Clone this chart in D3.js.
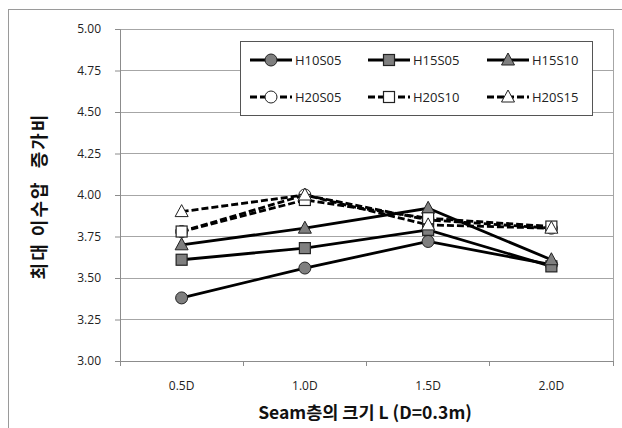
<!DOCTYPE html>
<html><head><meta charset="utf-8">
<script src="https://cdn.jsdelivr.net/npm/d3@7/dist/d3.min.js"></script>
<style>body{margin:0;background:#fff}</style>
</head><body>
<svg id="c" width="622" height="428"></svg>
<script>
const categories = ["0.5D","1.0D","1.5D","2.0D"];
const yTicks = [3.00,3.25,3.50,3.75,4.00,4.25,4.50,4.75,5.00];
const seriesNames = ["H10S05","H15S05","H15S10","H20S05","H20S10","H20S15"];
const H10S05 = [3.38,3.56,3.72,3.58];
const H15S05 = [3.61,3.68,3.79,3.57];
const H15S10 = [3.70,3.80,3.92,3.61];
const H20S05 = [3.78,4.00,3.85,3.80];
const H20S10 = [3.78,3.97,3.86,3.81];
const H20S15 = [3.90,4.00,3.82,3.80];
const seriesValues = [H10S05,H15S05,H15S10,H20S05,H20S10,H20S15];
const markers = ["circle","square","triangle","circle","square","triangle"];
const dashed = [false,false,false,true,true,true];
const filled = [true,true,true,false,false,false];

const svg = d3.select("#c");
svg.append("rect").attr("x",8.5).attr("y",9.5).attr("width",620).attr("height",425)
  .attr("fill","#fff").attr("stroke","#9a9a9a");

const L=120,R=613,T=29,B=361;
const x = d3.scaleBand().domain(categories).range([L,R]);
const y = d3.scaleLinear().domain([3,5]).range([B,T]);

// grid
svg.append("g").selectAll("line").data(yTicks).join("line")
  .attr("x1",L).attr("x2",R).attr("y1",d=>y(d)).attr("y2",d=>y(d))
  .attr("stroke","#a6a6a6").attr("stroke-width",1).attr("shape-rendering","crispEdges");
svg.append("line").attr("x1",R).attr("x2",R).attr("y1",T).attr("y2",B)
  .attr("stroke","#a6a6a6").attr("shape-rendering","crispEdges");

const yAxis = svg.append("g").attr("transform",`translate(${L},0)`)
  .call(d3.axisLeft(y).tickValues(yTicks).tickFormat(d3.format(".2f")).tickSize(5).tickPadding(14));
const xAxis = svg.append("g").attr("transform",`translate(0,${B})`)
  .call(d3.axisBottom(x).tickSize(0).tickPadding(20));
[yAxis,xAxis].forEach(a=>{
  a.select(".domain").attr("stroke","#8c8c8c");
  a.selectAll(".tick line").attr("stroke","#8c8c8c");
  a.selectAll("text").attr("font-family","'Open Sans','Noto Sans',sans-serif").attr("font-size",12).attr("fill","#222");
});
// x ticks at band boundaries
svg.append("g").selectAll("line").data(categories.concat(["end"])).join("line")
  .attr("x1",(d,i)=>L+i*x.bandwidth()).attr("x2",(d,i)=>L+i*x.bandwidth())
  .attr("y1",B).attr("y2",B+5).attr("stroke","#8c8c8c").attr("shape-rendering","crispEdges");

function marker(g, type, cx, cy, fill){
  if(type==="circle") g.append("circle").attr("cx",cx).attr("cy",cy).attr("r",6)
    .attr("fill",fill).attr("stroke","#222").attr("stroke-width",1);
  else if(type==="square") g.append("rect").attr("x",cx-5.5).attr("y",cy-5.5).attr("width",11).attr("height",11)
    .attr("fill",fill).attr("stroke","#222").attr("stroke-width",1.2);
  else g.append("path").attr("d",`M${cx},${cy-7}L${cx+6.5},${cy+5}L${cx-6.5},${cy+5}Z`)
    .attr("fill",fill).attr("stroke","#222").attr("stroke-width",1);
}

const line = d3.line().x((d,i)=>x(categories[i])+x.bandwidth()/2).y(d=>y(d));
const drawOrder=[0,1,2,3,4,5];
drawOrder.forEach(s=>{
  svg.append("path").datum(seriesValues[s]).attr("d",line).attr("fill","none")
    .attr("stroke","#000").attr("stroke-width",2.8)
    .attr("stroke-dasharray",dashed[s]?"7,3":null);
});
drawOrder.forEach(s=>{
  const g=svg.append("g");
  seriesValues[s].forEach((v,i)=>marker(g,markers[s],x(categories[i])+x.bandwidth()/2,y(v),filled[s]?"#7f7f7f":"#fff"));
});

// legend
const lg = svg.append("g");
lg.append("rect").attr("x",240.5).attr("y",41.5).attr("width",352).attr("height",74)
  .attr("fill","#fff").attr("stroke","#555");
const colX=[250,368,487], rowY=[60,97];
seriesNames.forEach((n,s)=>{
  const cx=colX[s%3], cy=rowY[Math.floor(s/3)];
  lg.append("line").attr("x1",cx).attr("x2",cx+42).attr("y1",cy).attr("y2",cy)
    .attr("stroke","#000").attr("stroke-width",2.8).attr("stroke-dasharray",dashed[s]?"7,3":null);
  marker(lg,markers[s],cx+21,cy,filled[s]?"#7f7f7f":"#fff");
  lg.append("text").attr("x",cx+45).attr("y",cy).attr("dy","0.35em").text(n)
    .attr("font-family","'Open Sans','Noto Sans',sans-serif").attr("font-size",13).attr("fill","#222");
});

// titles
svg.append("text").attr("transform","translate(40,196) rotate(-90)").attr("text-anchor","middle")
  .attr("dy","0.35em").attr("letter-spacing",2)
  .attr("font-family","'Noto Sans CJK KR',sans-serif").attr("font-weight","bold").attr("font-size",18)
  .attr("fill","#111").attr("xml:space","preserve").text("최대 이수압  증가비");
svg.append("text").attr("x",365).attr("y",413).attr("text-anchor","middle").attr("dy","0.35em")
  .attr("font-family","'Noto Sans CJK KR',sans-serif").attr("font-weight","bold").attr("font-size",17.5)
  .attr("fill","#111").text("Seam층의 크기 L (D=0.3m)");
</script>
</body></html>
